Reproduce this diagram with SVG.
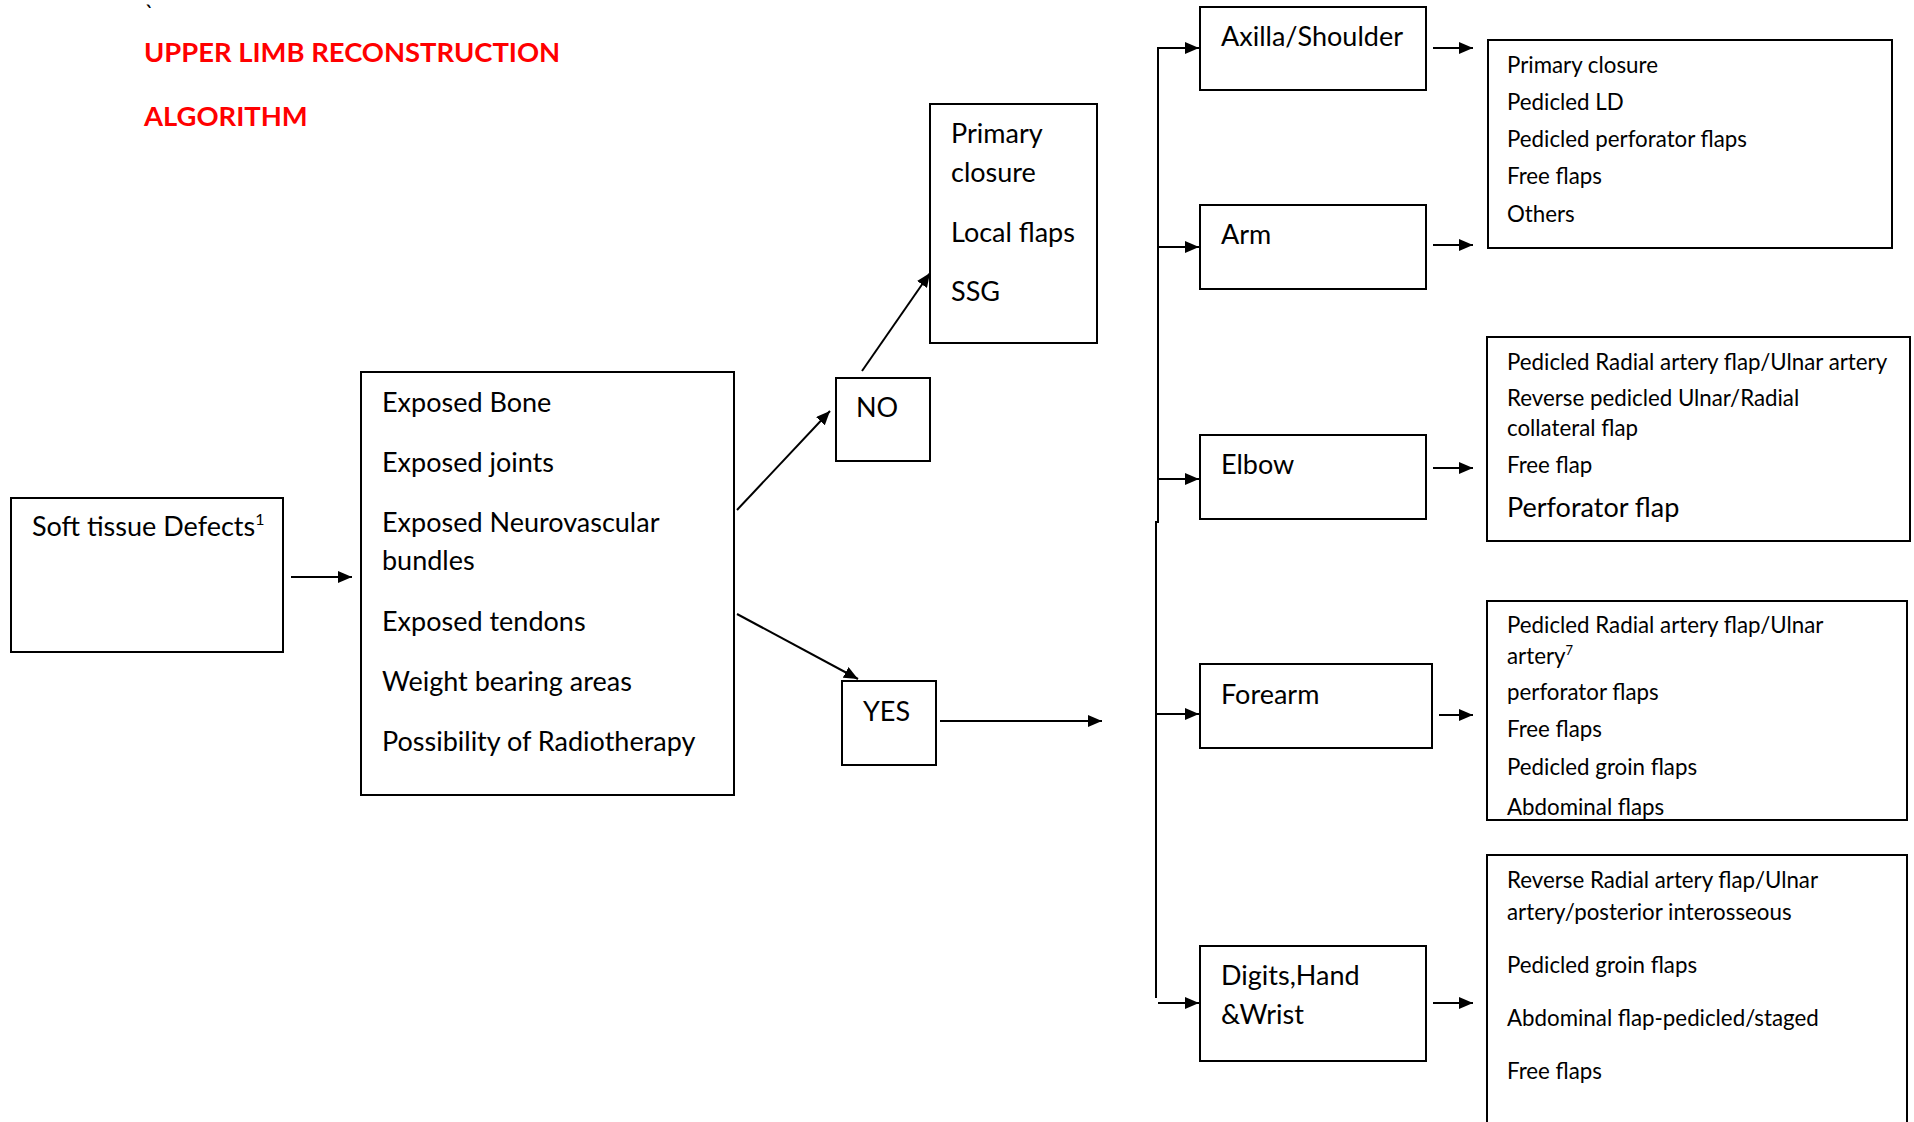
<svg xmlns="http://www.w3.org/2000/svg" width="1914" height="1122" viewBox="0 0 1914 1122">
<style>
.box{fill:#fff;stroke:#000;stroke-width:2}
.t{font-family:Lato,"Liberation Sans",sans-serif;font-size:27px;fill:#000}
.s{font-family:Lato,"Liberation Sans",sans-serif;font-size:22.3px;fill:#000}
.title{font-family:Lato,"Liberation Sans",sans-serif;font-size:27.4px;font-weight:bold;fill:#ff0000}
.c{stroke:#000;stroke-width:2;fill:none}
</style>
<defs>
<marker id="ah" markerUnits="userSpaceOnUse" viewBox="0 0 14 12" markerWidth="14" markerHeight="12" refX="14" refY="6" orient="auto">
<path d="M0,0 L14,6 L0,12 z" fill="#000"/>
</marker>
<clipPath id="clipC"><rect x="1487" y="601" width="420" height="218"/></clipPath>
</defs>
<rect width="1914" height="1122" fill="#fff"/>

<g id="title">
<text x="145" y="22" class="s">`</text>
<text x="144" y="62" class="title">UPPER LIMB RECONSTRUCTION</text>
<text x="144" y="126" class="title">ALGORITHM</text>
</g>

<g id="soft-tissue">
<rect class="box" x="11" y="498" width="272" height="154"/>
<text x="32" y="536" class="t">Soft tissue Defects<tspan font-size="16" dy="-11">1</tspan></text>
</g>

<g id="criteria">
<rect class="box" x="361" y="372" width="373" height="423"/>
<text x="382" y="412" class="t">Exposed Bone</text>
<text x="382" y="472" class="t">Exposed joints</text>
<text x="382" y="532" class="t">Exposed Neurovascular</text>
<text x="382" y="570" class="t">bundles</text>
<text x="382" y="631" class="t">Exposed tendons</text>
<text x="382" y="691" class="t">Weight bearing areas</text>
<text x="382" y="751" class="t">Possibility of Radiotherapy</text>
</g>

<g id="no">
<rect class="box" x="836" y="378" width="94" height="83"/>
<text x="856" y="417" class="t">NO</text>
</g>

<g id="simple">
<rect class="box" x="930" y="104" width="167" height="239"/>
<text x="951" y="143" class="t">Primary</text>
<text x="951" y="182" class="t">closure</text>
<text x="951" y="242" class="t">Local flaps</text>
<text x="951" y="301" class="t">SSG</text>
</g>

<g id="yes">
<rect class="box" x="842" y="681" width="94" height="84"/>
<text x="863" y="721" class="t">YES</text>
</g>

<g id="axilla">
<rect class="box" x="1200" y="7" width="226" height="83"/>
<text x="1221" y="46" class="t">Axilla/Shoulder</text>
</g>
<g id="arm">
<rect class="box" x="1200" y="205" width="226" height="84"/>
<text x="1221" y="244" class="t">Arm</text>
</g>
<g id="elbow">
<rect class="box" x="1200" y="435" width="226" height="84"/>
<text x="1221" y="474" class="t">Elbow</text>
</g>
<g id="forearm">
<rect class="box" x="1200" y="664" width="232" height="84"/>
<text x="1221" y="704" class="t">Forearm</text>
</g>
<g id="digits">
<rect class="box" x="1200" y="946" width="226" height="115"/>
<text x="1221" y="985" class="t">Digits,Hand</text>
<text x="1221" y="1024" class="t">&amp;Wrist</text>
</g>

<g id="options-upper">
<rect class="box" x="1488" y="40" width="404" height="208"/>
<text x="1507" y="73" class="s">Primary closure</text>
<text x="1507" y="110" class="s">Pedicled LD</text>
<text x="1507" y="147" class="s">Pedicled perforator flaps</text>
<text x="1507" y="184" class="s">Free flaps</text>
<text x="1507" y="222" class="s">Others</text>
</g>

<g id="options-elbow">
<rect class="box" x="1487" y="337" width="423" height="204"/>
<text x="1507" y="370" class="s">Pedicled Radial artery flap/Ulnar artery</text>
<text x="1507" y="406" class="s">Reverse pedicled Ulnar/Radial</text>
<text x="1507" y="436" class="s">collateral flap</text>
<text x="1507" y="473" class="s">Free flap</text>
<text x="1507" y="517" class="t">Perforator flap</text>
</g>

<g id="options-forearm">
<rect class="box" x="1487" y="601" width="420" height="219"/>
<g clip-path="url(#clipC)">
<text x="1507" y="633" class="s">Pedicled Radial artery flap/Ulnar</text>
<text x="1507" y="664" class="s">artery<tspan font-size="13" dy="-9">7</tspan></text>
<text x="1507" y="700" class="s">perforator flaps</text>
<text x="1507" y="737" class="s">Free flaps</text>
<text x="1507" y="775" class="s">Pedicled groin flaps</text>
<text x="1507" y="815" class="s">Abdominal flaps</text>
</g>
</g>

<g id="options-digits">
<rect class="box" x="1487" y="855" width="420" height="290"/>
<text x="1507" y="888" class="s">Reverse Radial artery flap/Ulnar</text>
<text x="1507" y="920" class="s">artery/posterior interosseous</text>
<text x="1507" y="973" class="s">Pedicled groin flaps</text>
<text x="1507" y="1026" class="s">Abdominal flap-pedicled/staged</text>
<text x="1507" y="1079" class="s">Free flaps</text>
</g>

<g id="connectors">
<line class="c" x1="291" y1="577" x2="352" y2="577" marker-end="url(#ah)"/>
<line class="c" x1="737" y1="510" x2="830" y2="411" marker-end="url(#ah)"/>
<line class="c" x1="862" y1="371" x2="930" y2="273" marker-end="url(#ah)"/>
<line class="c" x1="737" y1="614" x2="858" y2="679" marker-end="url(#ah)"/>
<line class="c" x1="940" y1="721" x2="1102" y2="721" marker-end="url(#ah)"/>
<line class="c" x1="1158" y1="47" x2="1158" y2="523"/>
<line class="c" x1="1156" y1="521" x2="1156" y2="998"/>
<line class="c" x1="1157" y1="48" x2="1199" y2="48" marker-end="url(#ah)"/>
<line class="c" x1="1157" y1="247" x2="1199" y2="247" marker-end="url(#ah)"/>
<line class="c" x1="1157" y1="479" x2="1199" y2="479" marker-end="url(#ah)"/>
<line class="c" x1="1156" y1="714" x2="1199" y2="714" marker-end="url(#ah)"/>
<line class="c" x1="1158" y1="1003" x2="1199" y2="1003" marker-end="url(#ah)"/>
<line class="c" x1="1433" y1="48" x2="1473" y2="48" marker-end="url(#ah)"/>
<line class="c" x1="1433" y1="245" x2="1473" y2="245" marker-end="url(#ah)"/>
<line class="c" x1="1433" y1="468" x2="1473" y2="468" marker-end="url(#ah)"/>
<line class="c" x1="1439" y1="715" x2="1473" y2="715" marker-end="url(#ah)"/>
<line class="c" x1="1433" y1="1003" x2="1473" y2="1003" marker-end="url(#ah)"/>
</g>
</svg>
